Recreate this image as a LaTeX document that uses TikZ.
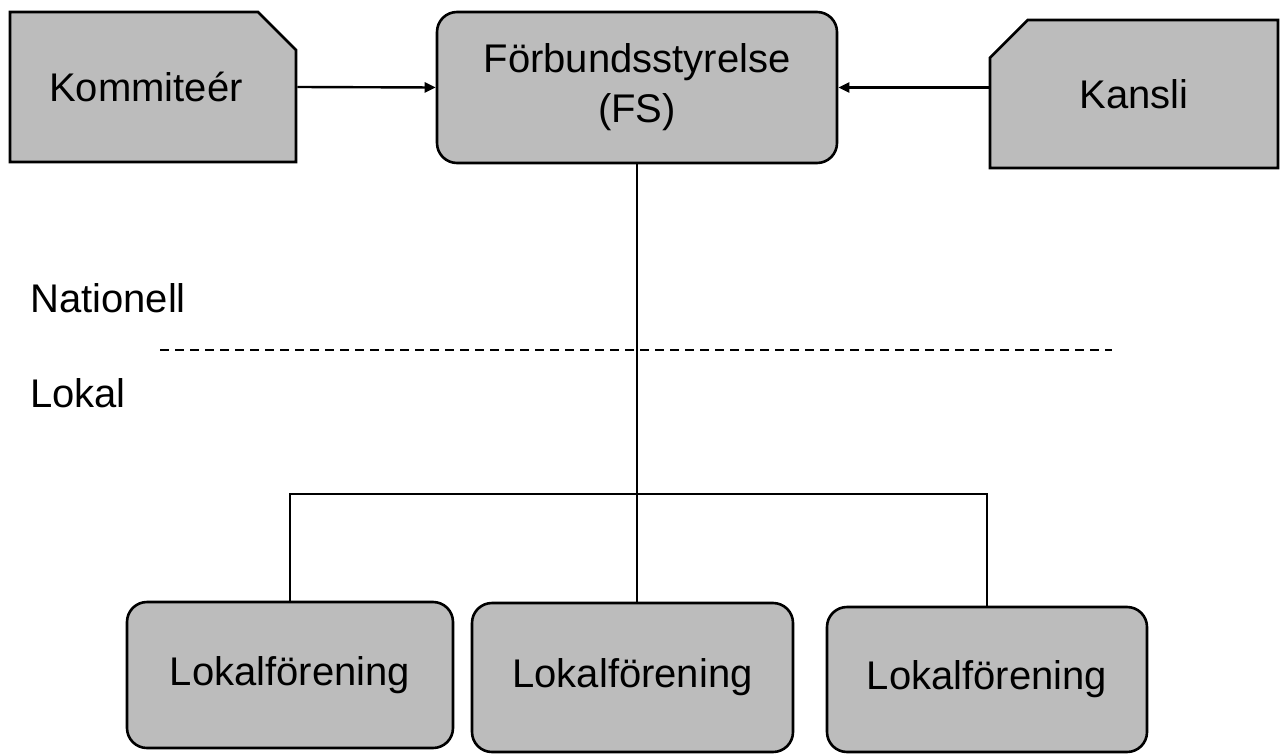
\documentclass[tikz,border=0pt]{standalone}
\usepackage{fontspec}
\setmainfont{Liberation Sans}
\usetikzlibrary{shapes.misc,arrows.meta}
\definecolor{boxgray}{RGB}{188,188,188}
\tikzset{
  base/.style={draw=black, line width=2.6pt, fill=boxgray, inner sep=0pt, align=center,
    font=\fontsize{40}{50}\selectfont, text=black},
  roundbox/.style={base, rounded corners=20pt},
  snipbox/.style={base, chamfered rectangle, chamfered rectangle xsep=23pt, chamfered rectangle ysep=23pt},
  conn/.style={line width=2.4pt, draw=black},
  arr/.style={conn, -{Triangle[length=11pt,width=10pt]}},
  lbl/.style={font=\fontsize{40}{48}\selectfont, inner sep=0pt, anchor=base west},
}
\begin{document}
\begin{tikzpicture}[x=1pt,y=-1pt]
\useasboundingbox (0,0) rectangle (1281,754);
\node[snipbox, chamfered rectangle corners=north east, minimum width=286pt, minimum height=150pt] (kom) at (153,87) {\raisebox{-4pt}{Kommiteér}\hspace*{14pt}};
\node[roundbox, minimum width=400pt, minimum height=151pt] (fs) at (637,87.5) {Förbundsstyrelse\\(FS)};
\node[snipbox, chamfered rectangle corners=north west, minimum width=288pt, minimum height=148pt] (kan) at (1134,94) {\raisebox{-5pt}{Kansli}};
\node[roundbox, minimum width=326pt, minimum height=146pt] (lf1) at (290,675) {Lokalförening};
\node[roundbox, minimum width=321pt, minimum height=149pt] (lf2) at (632.5,677.5) {Lokalförening};
\node[roundbox, minimum width=320pt, minimum height=145pt] (lf3) at (987,679.5) {Lokalförening};
\node[lbl] (nat) at (30,312) {Nationell};
\node[lbl] (lok) at (30,407) {Lokal};
\coordinate (d1) at (160,350);
\coordinate (d2) at (1112,350);
\coordinate (bar) at (0,494);
\draw[conn, dash pattern=on 9pt off 6pt] (d1) -- (d2);
\draw[arr] (kom.east) -- (fs.west);
\draw[arr] (kan.west |- fs.east) -- (fs.east);
\draw[conn] (fs.south) -- (fs.south |- lf2.north);
\draw[conn] (lf1.north) -- (lf1.north |- bar) -- (lf3.north |- bar) -- (lf3.north);
\end{tikzpicture}
\end{document}
